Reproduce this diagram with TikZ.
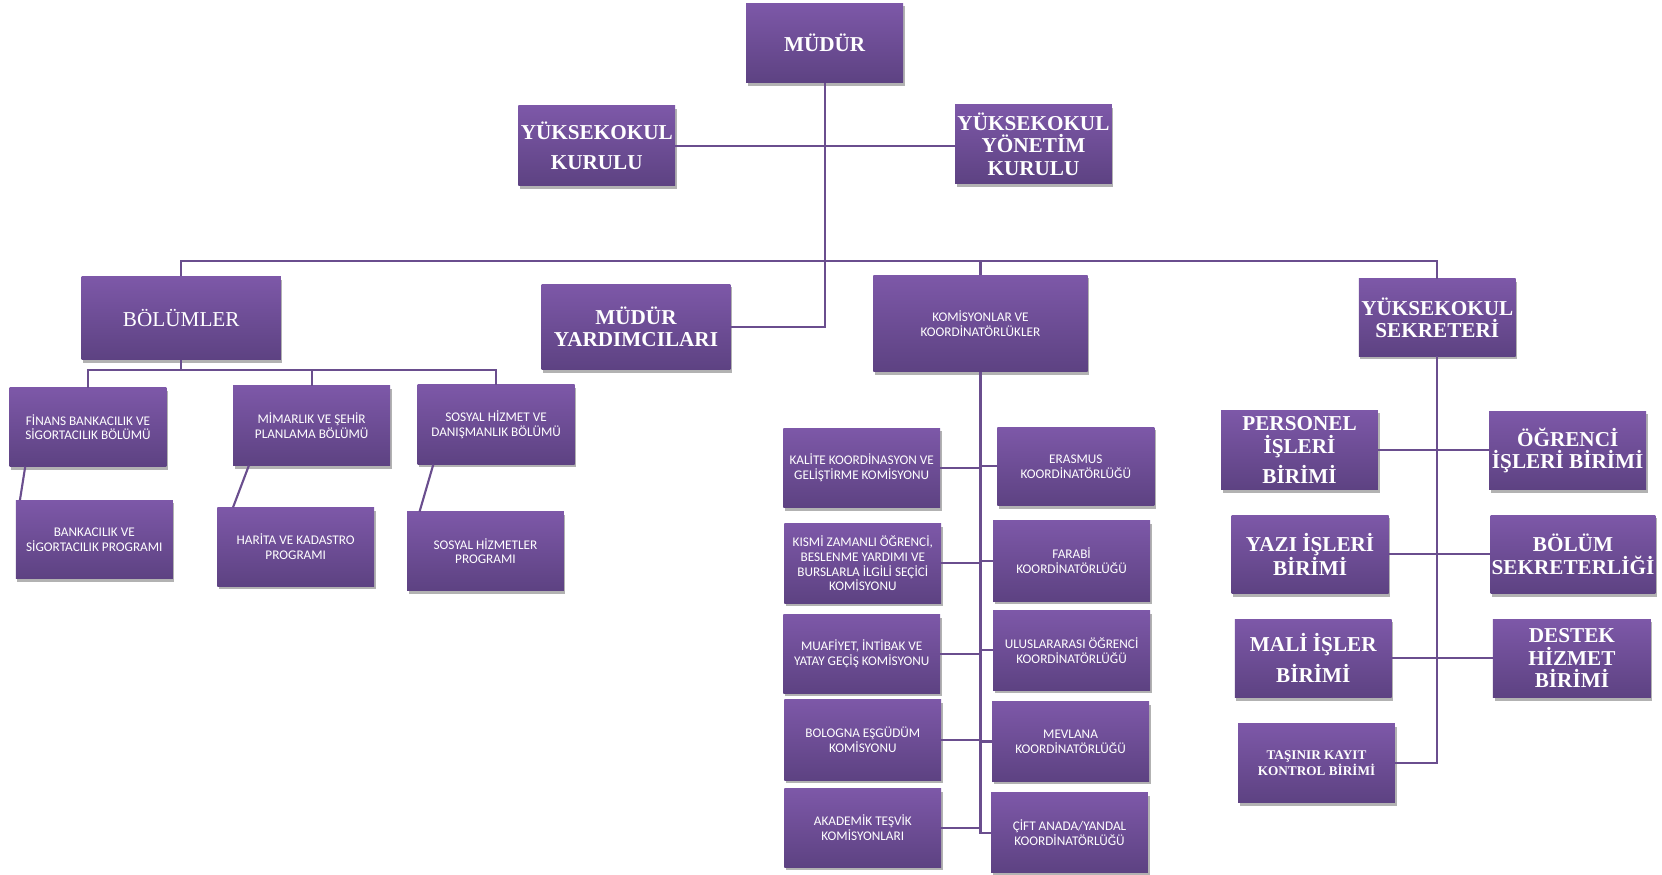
\documentclass[tikz,border=0pt]{standalone}
\usepackage{fontspec}
\setmainfont{Liberation Serif}
\newfontfamily\calfont{Carlito}
\usetikzlibrary{shadows}
\definecolor{boxtop}{HTML}{7D58A8}
\definecolor{boxbot}{HTML}{5D4282}
\definecolor{linec}{HTML}{6A4E8E}
\tikzset{
  orgbox/.style={rectangle, inner sep=1pt, top color=boxtop, bottom color=boxbot, draw=none,
    text=white, align=center,
    drop shadow={shadow xshift=1.5pt, shadow yshift=-3pt, opacity=0.3, fill=black}},
  big/.style={orgbox, font=\bfseries\fontsize{20}{21}\selectfont},
  small/.style={orgbox, font=\calfont\fontsize{12.5}{14}\selectfont},
  tas/.style={orgbox, font=\bfseries\fontsize{12.5}{13}\selectfont},
  conn/.style={draw=linec, line width=2pt},
  sz/.style 2 args={minimum width=#1pt, minimum height=#2pt},
}
\begin{document}
\begin{tikzpicture}[x=1pt, y=-1pt]
\useasboundingbox (0,0) rectangle (1568,825);
\fill[white] (0,0) rectangle (1568,825);

\coordinate (bus) at (778,246);
\coordinate (bbus) at (171,349);

% top level
\node[big, sz={148}{75}] (MUD) at (778,40.5) {MÜDÜR};
\node[big, sz={148}{75}] (YKK) at (563,137.5) {YÜKSEKOKUL\\[8pt]KURULU};
\node[big, sz={148}{74}] (YYK) at (975,136) {YÜKSEKOKUL\\YÖNETİM\\KURULU};
\node[orgbox, font=\fontsize{20}{21}\selectfont, sz={188}{78}] (BOL) at (171,300) {BÖLÜMLER};
\node[big, sz={178}{81}] (MY) at (600,308.5) {MÜDÜR\\YARDIMCILARI};
\node[small, sz={202}{91}] (KOM) at (925,305) {KOMİSYONLAR VE\\KOORDİNATÖRLÜKLER};
\node[big, sz={148}{73}] (YS) at (1356,299.5) {YÜKSEKOKUL\\SEKRETERİ};

% departments
\node[small, sz={148}{74}] (FIN) at (83,403) {FİNANS BANKACILIK VE\\SİGORTACILIK BÖLÜMÜ};
\node[small, sz={148}{75}] (MIM) at (294,401.5) {MİMARLIK VE ŞEHİR\\PLANLAMA BÖLÜMÜ};
\node[small, sz={148}{75}] (SOS) at (468,400.5) {SOSYAL HİZMET VE\\DANIŞMANLIK BÖLÜMÜ};
\node[small, sz={148}{74}] (BANK) at (89,509) {BANKACILIK VE\\SİGORTACILIK PROGRAMI};
\node[small, sz={148}{74}] (HAR) at (279,516) {HARİTA VE KADASTRO\\PROGRAMI};
\node[small, sz={148}{74}] (SHP) at (458,520) {SOSYAL HİZMETLER\\PROGRAMI};

% commissions
\node[small, sz={148}{75}] (KAL) at (813,441.5) {KALİTE KOORDİNASYON VE\\GELİŞTİRME KOMİSYONU};
\node[small, sz={148}{75}] (KIS) at (814,531.5) {KISMİ ZAMANLI ÖĞRENCİ,\\BESLENME YARDIMI VE\\BURSLARLA İLGİLİ SEÇİCİ\\KOMİSYONU};
\node[small, sz={148}{74}] (MUA) at (813,617) {MUAFİYET, İNTİBAK VE\\YATAY GEÇİŞ KOMİSYONU};
\node[small, sz={148}{76}] (BOLO) at (814,698) {BOLOGNA EŞGÜDÜM\\KOMİSYONU};
\node[small, sz={148}{74}] (AKA) at (814,781) {AKADEMİK TEŞVİK\\KOMİSYONLARI};
\node[small, sz={148}{74}] (ERA) at (1015,440) {ERASMUS\\KOORDİNATÖRLÜĞÜ};
\node[small, sz={148}{76}] (FAR) at (1011,529) {FARABİ\\KOORDİNATÖRLÜĞÜ};
\node[small, sz={148}{75}] (ULU) at (1011,613.5) {ULUSLARARASI ÖĞRENCİ\\KOORDİNATÖRLÜĞÜ};
\node[small, sz={148}{75}] (MEV) at (1010,699.5) {MEVLANA\\KOORDİNATÖRLÜĞÜ};
\node[small, sz={148}{75}] (CIFT) at (1009,785.5) {ÇİFT ANADA/YANDAL\\KOORDİNATÖRLÜĞÜ};

% secretary units
\node[big, sz={148}{75}] (PER) at (1226,424.5) {PERSONEL\\İŞLERİ\\[6pt]BİRİMİ};
\node[big, sz={148}{74}] (YAZ) at (1236,523) {YAZI İŞLERİ\\BİRİMİ};
\node[big, sz={148}{74}] (MAL) at (1239,621) {MALİ İŞLER\\[7pt]BİRİMİ};
\node[tas, sz={148}{74}] (TAS) at (1242,720) {TAŞINIR KAYIT\\KONTROL BİRİMİ};
\node[big, sz={148}{74}] (OGR) at (1479,425) {ÖĞRENCİ\\İŞLERİ BİRİMİ};
\node[big, sz={149}{74}] (BSEK) at (1484,523) {BÖLÜM\\SEKRETERLİĞİ};
\node[big, sz={149}{74}] (DES) at (1483,621) {DESTEK\\HİZMET\\BİRİMİ};

% connectors
\draw[conn] (MUD.south) |- (MY.east);
\draw[conn] (YKK.east) -- (YKK.east -| YYK.west);
\draw[conn] (BOL.north) |- (bus) -| (YS.north);
\draw[conn] (bus) -| (KOM.north);

\draw[conn] (BOL.south) -- (bbus);
\draw[conn] (FIN.north) |- (bbus) -| (SOS.north);
\draw[conn] (bbus) -| (MIM.north);
\draw[conn] ([xshift=15pt]FIN.south west) -- ([xshift=4pt]BANK.north west);
\draw[conn] ([xshift=15pt]MIM.south west) -- ([xshift=15pt]HAR.north west);
\draw[conn] ([xshift=15pt]SOS.south west) -- ([xshift=12pt]SHP.north west);

\draw[conn] (KOM.south) |- (CIFT.west);
\foreach \n in {KAL,KIS,MUA,BOLO,AKA} \draw[conn] (\n.east) -- (\n.east -| KOM.south);
\foreach \n in {ERA,FAR,ULU,MEV} \draw[conn] (\n.west) -- (\n.west -| KOM.south);

\draw[conn] (YS.south) |- (TAS.east);
\draw[conn] (PER.east) -- (PER.east -| OGR.west);
\draw[conn] (YAZ.east) -- (BSEK.west);
\draw[conn] (MAL.east) -- (DES.west);
\end{tikzpicture}
\end{document}
